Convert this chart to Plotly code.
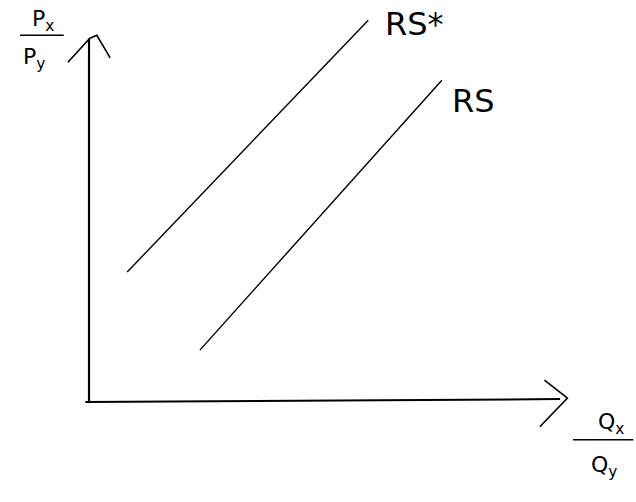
import plotly.graph_objects as go

# Relative supply curves (abstract units; origin at the axes corner)
rs_star_x = [0.83, 6.07]
rs_star_y = [3.61, 10.61]
rs_x = [2.41, 7.67]
rs_y = [1.44, 8.94]

# Axes (hand-drawn)
yaxis_x = [0.0, 0.0]
yaxis_y = [0.0, 10.1]
xaxis_x = [-0.08, 10.24]
xaxis_y = [0.0, 0.08]

# Arrowheads
yarrow_x = [-0.46, 0.02, 0.17, 0.46]
yarrow_y = [9.44, 10.11, 10.19, 9.56]
xarrow_x = [9.9, 10.4, 9.8]
xarrow_y = [0.61, 0.11, -0.69]

fig = go.Figure()
line_style = dict(color="black", width=1.6)
fig.add_trace(go.Scatter(x=yaxis_x, y=yaxis_y, mode="lines", line=dict(color="black", width=2.2)))
fig.add_trace(go.Scatter(x=xaxis_x, y=xaxis_y, mode="lines", line=dict(color="black", width=2.0)))
fig.add_trace(go.Scatter(x=yarrow_x, y=yarrow_y, mode="lines", line=line_style))
fig.add_trace(go.Scatter(x=xarrow_x, y=xarrow_y, mode="lines", line=line_style))
fig.add_trace(go.Scatter(x=rs_star_x, y=rs_star_y, mode="lines", line=dict(color="black", width=1.4)))
fig.add_trace(go.Scatter(x=rs_x, y=rs_y, mode="lines", line=dict(color="black", width=1.4)))

font_big = dict(family="DejaVu Sans", size=32, color="black")
font_lab = dict(family="DejaVu Sans", size=22, color="black")

fig.add_annotation(x=6.4, y=10.5, text="RS*", showarrow=False, xanchor="left", yanchor="middle", font=font_big)
fig.add_annotation(x=7.85, y=8.35, text="RS", showarrow=False, xanchor="left", yanchor="middle", font=font_big)
fig.add_annotation(x=-1.0, y=10.6, text="P<sub>x</sub>", showarrow=False, xanchor="center", yanchor="middle", font=font_lab)
fig.add_annotation(x=-1.2, y=9.55, text="P<sub>y</sub>", showarrow=False, xanchor="center", yanchor="middle", font=font_lab)
fig.add_annotation(x=11.35, y=-0.6, text="Q<sub>x</sub>", showarrow=False, xanchor="center", yanchor="middle", font=font_lab)
fig.add_annotation(x=11.2, y=-1.8, text="Q<sub>y</sub>", showarrow=False, xanchor="center", yanchor="middle", font=font_lab)

# fraction bars
fig.add_shape(type="line", x0=-1.5, x1=-0.55, y0=10.19, y1=10.19, line=dict(color="black", width=1.5))
fig.add_shape(type="line", x0=10.52, x1=11.83, y0=-1.05, y1=-1.05, line=dict(color="black", width=1.5))

fig.update_layout(
    width=636, height=502,
    margin=dict(l=0, r=0, t=0, b=0),
    paper_bgcolor="white", plot_bgcolor="white",
    showlegend=False,
    xaxis=dict(range=[-1.935, 11.89], visible=False, fixedrange=True),
    yaxis=dict(range=[-2.78, 11.17], visible=False, fixedrange=True),
)
fig.write_html("out.html", config={"displayModeBar": False},
               post_script="document.body.style.margin='0';")
